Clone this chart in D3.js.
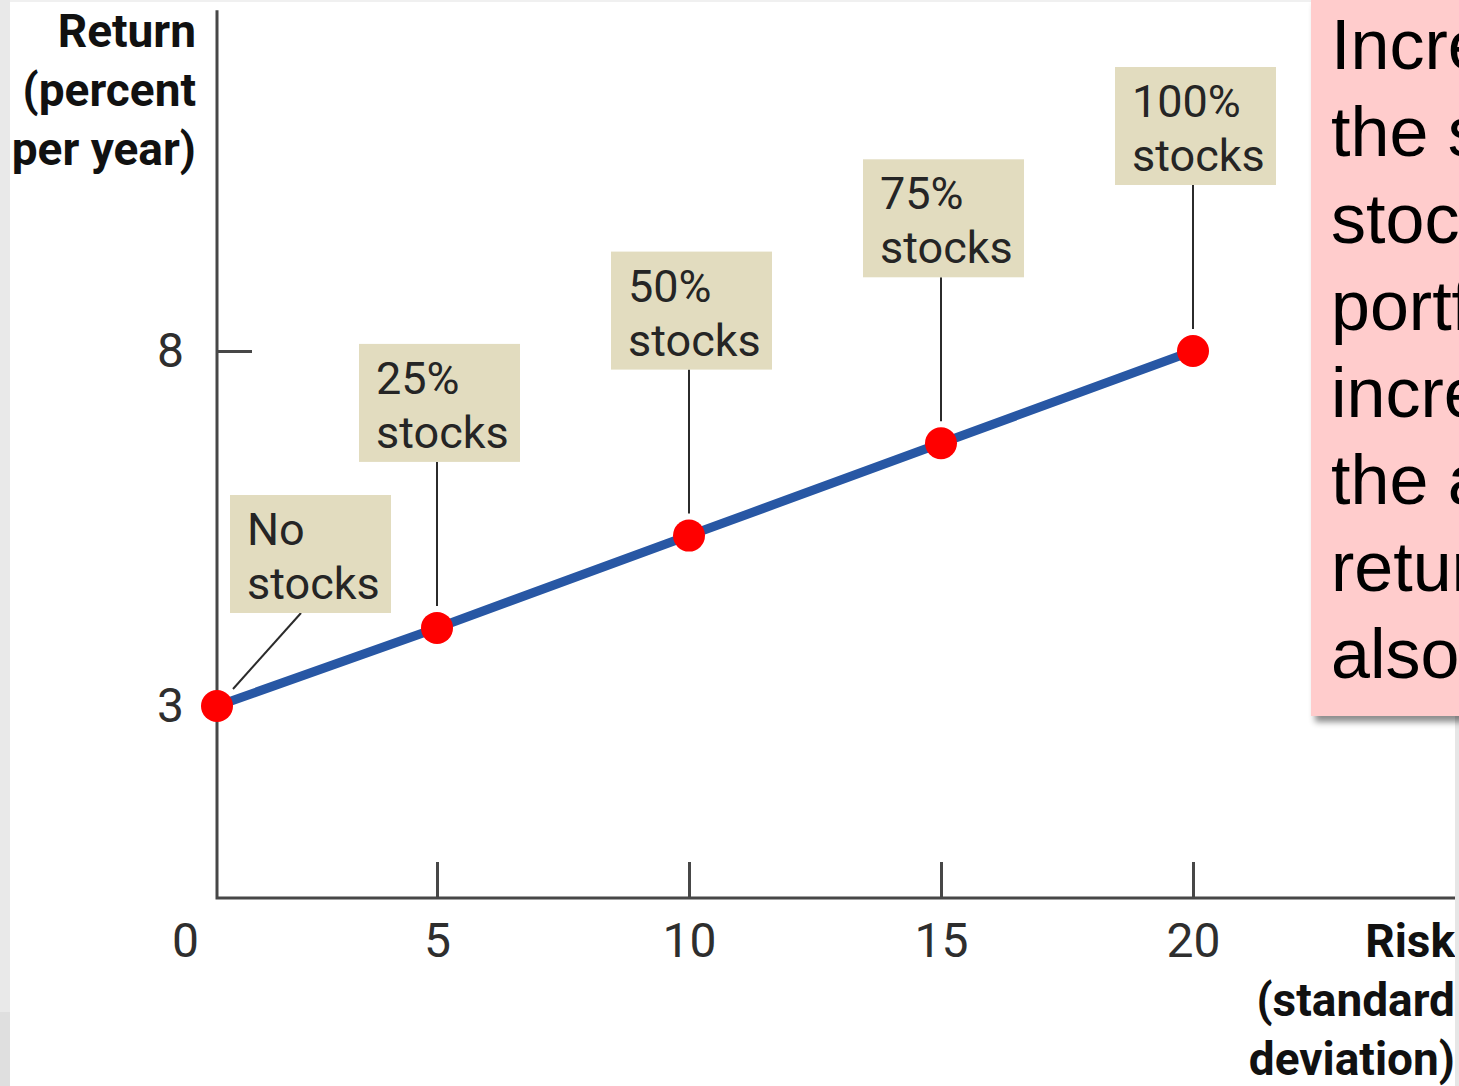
<!DOCTYPE html>
<html>
<head>
<meta charset="utf-8">
<script src="https://cdn.jsdelivr.net/npm/d3@7"></script>
<style>
  html, body { margin: 0; padding: 0; background: #fff; overflow: hidden; }
  svg { display: block; }
</style>
</head>
<body>
<svg id="chart" width="1459" height="1086"></svg>
<script>
// Portfolio mixes: risk (standard deviation) against average return
const risk = [0, 5, 10, 15, 20];
const avgReturn = [3, 4.1, 5.4, 6.7, 8];
const mixLabels = [["No", "stocks"], ["25%", "stocks"], ["50%", "stocks"], ["75%", "stocks"], ["100%", "stocks"]];
const xTickValues = [0, 5, 10, 15, 20];
const yTickValues = [3, 8];
const yTitleLines = ["Return", "(percent", "per year)"];
const xTitleLines = ["Risk", "(standard", "deviation)"];
const noteLines = ["Increasing", "the share of", "stocks in the", "portfolio", "increases", "the average", "return but", "also the risk"];

const W = 1459, H = 1086;
const svg = d3.select("#chart");

// Both axes have a compressed first segment near the origin
const x = d3.scaleLinear().domain([0, 5, 20]).range([217, 437, 1193]);
const y = d3.scaleLinear().domain([0, 3, 8]).range([898, 706, 351]);
const xEnd = 25.2, yEnd = 12.8;

const axisColor = "#474747";
const tickFont = "Roboto, 'Open Sans', sans-serif";

// page edges
svg.append("rect").attr("x", 0).attr("y", 0).attr("width", W).attr("height", H).attr("fill", "#fff");
svg.append("rect").attr("x", 0).attr("y", 0).attr("width", W).attr("height", 2).attr("fill", "#f0f0f0");
svg.append("rect").attr("x", 0).attr("y", 0).attr("width", 10).attr("height", H).attr("fill", "#e9e9e9");
svg.append("rect").attr("x", 0).attr("y", 1012).attr("width", 10).attr("height", H - 1012).attr("fill", "#dfdfdf");

// x axis
const xAxis = d3.axisBottom(x)
  .tickValues(xTickValues)
  .tickSizeInner(-36)
  .tickSizeOuter(0)
  .tickPadding(25)
  .tickFormat(d3.format("d"));
const gx = svg.append("g").attr("transform", `translate(0,${y(0)})`).call(xAxis);
gx.select(".domain").remove();
gx.selectAll(".tick line").attr("stroke", axisColor).attr("stroke-width", 3);
gx.selectAll(".tick").filter(d => d === 0).select("line").remove();
gx.selectAll(".tick").filter(d => d === 0).select("text").attr("x", -32);
gx.selectAll(".tick text")
  .attr("fill", "#2e2e2e")
  .style("font-family", tickFont)
  .style("font-size", "48px");

// y axis
const yAxis = d3.axisLeft(y)
  .tickValues(yTickValues)
  .tickSizeInner(-35)
  .tickSizeOuter(0)
  .tickPadding(33)
  .tickFormat(d3.format("d"));
const gy = svg.append("g").attr("transform", `translate(${x(0)},0)`).call(yAxis);
gy.select(".domain").remove();
gy.selectAll(".tick line").attr("stroke", axisColor).attr("stroke-width", 3);
gy.selectAll(".tick").filter(d => d === 3).select("line").remove();
gy.selectAll(".tick text")
  .attr("fill", "#2e2e2e")
  .style("font-family", tickFont)
  .style("font-size", "48px");

// axis lines
svg.append("path")
  .attr("d", `M${x(0)},${y(yEnd)}V${y(0)}H${x(xEnd)}`)
  .attr("fill", "none")
  .attr("stroke", axisColor)
  .attr("stroke-width", 3);

// axis titles
const titleFont = "Roboto, 'Liberation Sans', sans-serif";
svg.append("text")
  .attr("text-anchor", "end")
  .style("font-family", titleFont).style("font-weight", 700).style("font-size", "46px")
  .attr("fill", "#111")
  .selectAll("tspan").data(yTitleLines).join("tspan")
  .attr("x", 196).attr("y", (d, i) => 47 + i * 59).text(d => d);

svg.append("text")
  .attr("text-anchor", "end")
  .style("font-family", titleFont).style("font-weight", 700).style("font-size", "46px")
  .attr("fill", "#111")
  .selectAll("tspan").data(xTitleLines).join("tspan")
  .attr("x", 1455).attr("y", (d, i) => 957 + i * 59).text(d => d);

// right page edge below the note
svg.append("rect").attr("x", 1455).attr("y", 716).attr("width", 4).attr("height", H - 716).attr("fill", "#e6e6e6");

// label boxes and leader lines
const boxW = 161, boxH = 118;
const pts = risk.map((r, i) => ({ px: x(r), py: y(avgReturn[i]), label: mixLabels[i], i }));

function boxFor(p) {
  if (p.i === 0) {
    return { left: p.px + 13, top: p.py - 211,
             leader: [[p.px + 84, p.py - 93], [p.px + 16, p.py - 17]] };
  }
  const top = p.py - 284;
  return { left: p.px - 78, top,
           leader: [[p.px, top + boxH], [p.px, p.py - 22]] };
}

const labels = svg.append("g");
pts.forEach(p => {
  const b = boxFor(p);
  labels.append("line")
    .attr("x1", b.leader[0][0]).attr("y1", b.leader[0][1])
    .attr("x2", b.leader[1][0]).attr("y2", b.leader[1][1])
    .attr("stroke", "#2b2b2b").attr("stroke-width", 2);
  labels.append("rect")
    .attr("x", b.left).attr("y", b.top).attr("width", boxW).attr("height", boxH)
    .attr("fill", "#e2dcbf");
  labels.append("text")
    .style("font-family", tickFont).style("font-size", "45px")
    .attr("fill", "#252525")
    .selectAll("tspan").data(p.label).join("tspan")
    .attr("x", b.left + 17).attr("y", (d, k) => b.top + 50 + k * 54).text(d => d);
});

// frontier line and portfolio points
const line = d3.line().x(d => d.px).y(d => d.py);
svg.append("path")
  .datum(pts)
  .attr("d", line)
  .attr("fill", "none")
  .attr("stroke", "#2857a4")
  .attr("stroke-width", 9);

svg.append("g").selectAll("circle").data(pts).join("circle")
  .attr("cx", d => d.px).attr("cy", d => d.py).attr("r", 16)
  .attr("fill", "#ff0000");

// note panel
const defs = svg.append("defs");
const f = defs.append("filter").attr("id", "noteShadow")
  .attr("x", "-10%").attr("y", "-10%").attr("width", "130%").attr("height", "130%");
f.append("feDropShadow").attr("dx", 4).attr("dy", 6).attr("stdDeviation", 3)
  .attr("flood-color", "#000").attr("flood-opacity", 0.45);
defs.append("clipPath").attr("id", "noteClip")
  .append("rect").attr("x", 1311).attr("y", -2).attr("width", 160).attr("height", 718);

svg.append("rect")
  .attr("x", 1311).attr("y", -2).attr("width", 160).attr("height", 718)
  .attr("fill", "#ffcccc")
  .attr("filter", "url(#noteShadow)");

svg.append("text")
  .attr("clip-path", "url(#noteClip)")
  .style("font-family", "'Liberation Sans', Arial, sans-serif")
  .style("font-size", "70px")
  .attr("fill", "#000")
  .selectAll("tspan").data(noteLines).join("tspan")
  .attr("x", 1331).attr("y", (d, i) => 69 + i * 87).text(d => d);
</script>
</body>
</html>
